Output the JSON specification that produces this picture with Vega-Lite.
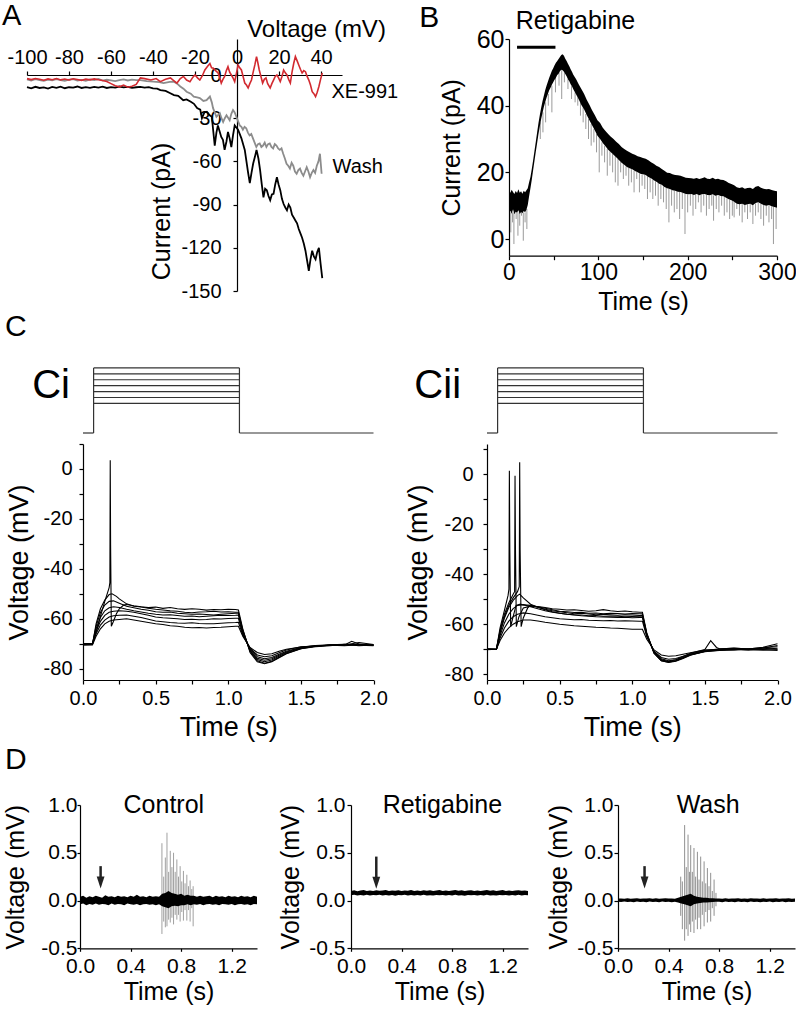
{
"$schema":"https://vega.github.io/schema/vega-lite/v6.json",
"background":"white",
"padding":{"left":0,"top":2,"right":0,"bottom":0},
"config":{
"font":"Liberation Sans",
"view":{"stroke":null},
"axis":{"labelFont":"Liberation Sans","titleFont":"Liberation Sans","labelColor":"#000","titleColor":"#000","domainColor":"#000","tickColor":"#000","titleFontWeight":"normal","grid":false,"labelFlush":false,"labelOverlap":false,"labelBound":false,"domainWidth":1.2,"tickWidth":1.2},
"title":{"font":"Liberation Sans","fontWeight":"normal","color":"#000"},
"text":{"font":"Liberation Sans","color":"#000"}
},
"datasets":{
"iv":[
{"k":"c","V":-100,"I":-8.5},{"k":"c","V":-98,"I":-9.3},{"k":"c","V":-96,"I":-8.2},{"k":"c","V":-94,"I":-9},{"k":"c","V":-92,"I":-8.6},{"k":"c","V":-90,"I":-9.4},{"k":"c","V":-88,"I":-8.3},{"k":"c","V":-86,"I":-8.9},{"k":"c","V":-84,"I":-8.1},{"k":"c","V":-82,"I":-9.2},{"k":"c","V":-80,"I":-8.5},{"k":"c","V":-78,"I":-8.8},{"k":"c","V":-76,"I":-8},{"k":"c","V":-74,"I":-9},{"k":"c","V":-72,"I":-8.4},{"k":"c","V":-70,"I":-8.9},{"k":"c","V":-68,"I":-8.2},{"k":"c","V":-66,"I":-8.7},{"k":"c","V":-64,"I":-8.1},{"k":"c","V":-62,"I":-9},{"k":"c","V":-60,"I":-8.4},{"k":"c","V":-58,"I":-8.8},{"k":"c","V":-56,"I":-8},{"k":"c","V":-54,"I":-8.6},{"k":"c","V":-52,"I":-8.2},{"k":"c","V":-50,"I":-8.9},{"k":"c","V":-48,"I":-8.5},{"k":"c","V":-46,"I":-8.2},{"k":"c","V":-44,"I":-8.8},{"k":"c","V":-42,"I":-8.4},{"k":"c","V":-40,"I":-9.3},{"k":"c","V":-38,"I":-9.5},{"k":"c","V":-36.5,"I":-10.5},{"k":"c","V":-34,"I":-11},{"k":"c","V":-32,"I":-12.5},{"k":"c","V":-30,"I":-14},{"k":"c","V":-28,"I":-14.5},{"k":"c","V":-25.6,"I":-17.5},{"k":"c","V":-24,"I":-17},{"k":"c","V":-22,"I":-18.6},{"k":"c","V":-20.5,"I":-20},{"k":"c","V":-19,"I":-23},{"k":"c","V":-17.5,"I":-24},{"k":"c","V":-16.7,"I":-30},{"k":"c","V":-15.5,"I":-26},{"k":"c","V":-14.4,"I":-25.6},{"k":"c","V":-13,"I":-28},{"k":"c","V":-12,"I":-29},{"k":"c","V":-10.6,"I":-49},{"k":"c","V":-9.8,"I":-40},{"k":"c","V":-9.1,"I":-35},{"k":"c","V":-7.5,"I":-43},{"k":"c","V":-6.7,"I":-45},{"k":"c","V":-5.9,"I":-52},{"k":"c","V":-5,"I":-46},{"k":"c","V":-4.3,"I":-39.5},{"k":"c","V":-3.5,"I":-44},{"k":"c","V":-2.7,"I":-50},{"k":"c","V":-1.9,"I":-42},{"k":"c","V":-1.1,"I":-35},{"k":"c","V":0.5,"I":-38},{"k":"c","V":2.1,"I":-44},{"k":"c","V":3.7,"I":-52},{"k":"c","V":4.5,"I":-60},{"k":"c","V":5.3,"I":-68},{"k":"c","V":6.1,"I":-75},{"k":"c","V":6.9,"I":-68},{"k":"c","V":7.7,"I":-61.5},{"k":"c","V":8.5,"I":-57},{"k":"c","V":9.3,"I":-52},{"k":"c","V":10.2,"I":-58},{"k":"c","V":11,"I":-66},{"k":"c","V":11.8,"I":-76},{"k":"c","V":12.6,"I":-85},{"k":"c","V":13.4,"I":-79},{"k":"c","V":14.2,"I":-80},{"k":"c","V":15,"I":-84},{"k":"c","V":15.8,"I":-87},{"k":"c","V":16.6,"I":-83},{"k":"c","V":17.4,"I":-82.5},{"k":"c","V":18.2,"I":-76},{"k":"c","V":19,"I":-71},{"k":"c","V":19.8,"I":-76},{"k":"c","V":20.6,"I":-80},{"k":"c","V":21.4,"I":-86},{"k":"c","V":22.2,"I":-89.6},{"k":"c","V":23,"I":-92},{"k":"c","V":23.8,"I":-94},{"k":"c","V":24.6,"I":-90},{"k":"c","V":25.4,"I":-92},{"k":"c","V":26.2,"I":-97},{"k":"c","V":27,"I":-99},{"k":"c","V":27.8,"I":-101},{"k":"c","V":28.6,"I":-103},{"k":"c","V":29.4,"I":-107},{"k":"c","V":30.2,"I":-110},{"k":"c","V":31,"I":-113},{"k":"c","V":31.8,"I":-117},{"k":"c","V":32.6,"I":-122},{"k":"c","V":33.4,"I":-129},{"k":"c","V":34.2,"I":-136},{"k":"c","V":35,"I":-128},{"k":"c","V":35.8,"I":-122},{"k":"c","V":36.6,"I":-126},{"k":"c","V":37.4,"I":-128},{"k":"c","V":38.2,"I":-123},{"k":"c","V":39,"I":-120},{"k":"c","V":39.8,"I":-131},{"k":"c","V":40.6,"I":-141},
{"k":"w","V":-100,"I":-3},{"k":"w","V":-98,"I":-3.8},{"k":"w","V":-96,"I":-2.9},{"k":"w","V":-94,"I":-3.5},{"k":"w","V":-92,"I":-4},{"k":"w","V":-90,"I":-3.2},{"k":"w","V":-88,"I":-3.7},{"k":"w","V":-86,"I":-2.8},{"k":"w","V":-84,"I":-3.6},{"k":"w","V":-82,"I":-4.1},{"k":"w","V":-80,"I":-3.3},{"k":"w","V":-78,"I":-2.9},{"k":"w","V":-76,"I":-3.8},{"k":"w","V":-74,"I":-3.4},{"k":"w","V":-72,"I":-4},{"k":"w","V":-70,"I":-3.1},{"k":"w","V":-68,"I":-3.6},{"k":"w","V":-66,"I":-2.8},{"k":"w","V":-64,"I":-3.9},{"k":"w","V":-62,"I":-3.3},{"k":"w","V":-60,"I":-3.7},{"k":"w","V":-58,"I":-4.2},{"k":"w","V":-56,"I":-3.5},{"k":"w","V":-54,"I":-3},{"k":"w","V":-52,"I":-3.8},{"k":"w","V":-50,"I":-3.2},{"k":"w","V":-48,"I":-3.6},{"k":"w","V":-46,"I":-3.5},{"k":"w","V":-43,"I":-4.2},{"k":"w","V":-39.8,"I":-4.6},{"k":"w","V":-37,"I":-5},{"k":"w","V":-35,"I":-5.6},{"k":"w","V":-32,"I":-4.8},{"k":"w","V":-30,"I":-4.6},{"k":"w","V":-28.5,"I":-6},{"k":"w","V":-27,"I":-8},{"k":"w","V":-25.5,"I":-9.5},{"k":"w","V":-24,"I":-11.6},{"k":"w","V":-22,"I":-13},{"k":"w","V":-20.6,"I":-15},{"k":"w","V":-19,"I":-15.5},{"k":"w","V":-17.7,"I":-16},{"k":"w","V":-16,"I":-18},{"k":"w","V":-14.5,"I":-17.5},{"k":"w","V":-12.9,"I":-15},{"k":"w","V":-12,"I":-19},{"k":"w","V":-11.4,"I":-23},{"k":"w","V":-10.6,"I":-26},{"k":"w","V":-9.8,"I":-29},{"k":"w","V":-8.2,"I":-26.5},{"k":"w","V":-7.4,"I":-30},{"k":"w","V":-6.6,"I":-32.6},{"k":"w","V":-5.8,"I":-30},{"k":"w","V":-5,"I":-28},{"k":"w","V":-3.5,"I":-31.4},{"k":"w","V":-2.7,"I":-27},{"k":"w","V":-1.9,"I":-24.4},{"k":"w","V":-1.1,"I":-26},{"k":"w","V":-0.3,"I":-29},{"k":"w","V":0.5,"I":-32},{"k":"w","V":1.3,"I":-35},{"k":"w","V":2.1,"I":-36},{"k":"w","V":2.8,"I":-38},{"k":"w","V":3.6,"I":-36},{"k":"w","V":4.4,"I":-37},{"k":"w","V":5.2,"I":-40},{"k":"w","V":6,"I":-42},{"k":"w","V":6.8,"I":-41},{"k":"w","V":7.6,"I":-44},{"k":"w","V":8.4,"I":-47},{"k":"w","V":9.2,"I":-50},{"k":"w","V":10,"I":-48},{"k":"w","V":10.8,"I":-47.5},{"k":"w","V":11.6,"I":-50},{"k":"w","V":12.4,"I":-49},{"k":"w","V":13.2,"I":-47},{"k":"w","V":14,"I":-50},{"k":"w","V":14.8,"I":-48},{"k":"w","V":15.6,"I":-47.5},{"k":"w","V":16.4,"I":-50},{"k":"w","V":17.2,"I":-51},{"k":"w","V":18,"I":-48},{"k":"w","V":18.8,"I":-49},{"k":"w","V":19.6,"I":-51},{"k":"w","V":20.4,"I":-52},{"k":"w","V":21.2,"I":-51},{"k":"w","V":22,"I":-54.7},{"k":"w","V":22.8,"I":-58},{"k":"w","V":23.6,"I":-61.6},{"k":"w","V":24.4,"I":-63},{"k":"w","V":25.2,"I":-65},{"k":"w","V":26,"I":-61},{"k":"w","V":26.8,"I":-63},{"k":"w","V":27.6,"I":-67},{"k":"w","V":28.4,"I":-68.6},{"k":"w","V":29.2,"I":-66},{"k":"w","V":30,"I":-65},{"k":"w","V":30.8,"I":-68},{"k":"w","V":31.6,"I":-70},{"k":"w","V":32.4,"I":-67},{"k":"w","V":33.2,"I":-64},{"k":"w","V":34,"I":-67},{"k":"w","V":34.8,"I":-71},{"k":"w","V":35.6,"I":-68},{"k":"w","V":36.4,"I":-66},{"k":"w","V":37.2,"I":-68},{"k":"w","V":38,"I":-63},{"k":"w","V":38.8,"I":-60},{"k":"w","V":39.5,"I":-54.7},{"k":"w","V":40.3,"I":-68.6},
{"k":"x","V":-100,"I":-2.5},{"k":"x","V":-98,"I":-3.2},{"k":"x","V":-96,"I":-2.4},{"k":"x","V":-94,"I":-3},{"k":"x","V":-92,"I":-3.6},{"k":"x","V":-90,"I":-2.7},{"k":"x","V":-88,"I":-3.3},{"k":"x","V":-86,"I":-2.5},{"k":"x","V":-84,"I":-3.4},{"k":"x","V":-82,"I":-2.8},{"k":"x","V":-80,"I":-3.5},{"k":"x","V":-78,"I":-2.6},{"k":"x","V":-76,"I":-3.1},{"k":"x","V":-74,"I":-3.7},{"k":"x","V":-72,"I":-2.9},{"k":"x","V":-70,"I":-3.4},{"k":"x","V":-68,"I":-2.7},{"k":"x","V":-66,"I":-3.3},{"k":"x","V":-64,"I":-3.8},{"k":"x","V":-62,"I":-4.5},{"k":"x","V":-60,"I":-6},{"k":"x","V":-58,"I":-7.5},{"k":"x","V":-56,"I":-8.2},{"k":"x","V":-54,"I":-7},{"k":"x","V":-52,"I":-8.5},{"k":"x","V":-50,"I":-7.8},{"k":"x","V":-48,"I":-6.5},{"k":"x","V":-46,"I":-2},{"k":"x","V":-44,"I":-2.5},{"k":"x","V":-41,"I":-3.5},{"k":"x","V":-38.5,"I":-2.5},{"k":"x","V":-36.5,"I":-4.6},{"k":"x","V":-34,"I":-3},{"k":"x","V":-31.7,"I":-2},{"k":"x","V":-30,"I":-4},{"k":"x","V":-28.6,"I":-5.6},{"k":"x","V":-27,"I":-2.5},{"k":"x","V":-25.5,"I":-1},{"k":"x","V":-24,"I":-3.5},{"k":"x","V":-22.4,"I":-4.6},{"k":"x","V":-21,"I":-1.5},{"k":"x","V":-20,"I":0},{"k":"x","V":-18.8,"I":-2},{"k":"x","V":-17.7,"I":-3.5},{"k":"x","V":-16.5,"I":-0.5},{"k":"x","V":-15.3,"I":3.5},{"k":"x","V":-14,"I":6},{"k":"x","V":-12.9,"I":8},{"k":"x","V":-12.1,"I":5},{"k":"x","V":-11.4,"I":4.8},{"k":"x","V":-10.2,"I":3},{"k":"x","V":-9,"I":1.4},{"k":"x","V":-8.2,"I":-2},{"k":"x","V":-7.5,"I":-5.6},{"k":"x","V":-6.7,"I":-3},{"k":"x","V":-5.9,"I":-1},{"k":"x","V":-5.1,"I":3},{"k":"x","V":-4.3,"I":5.8},{"k":"x","V":-3.5,"I":2},{"k":"x","V":-2.7,"I":0},{"k":"x","V":-1.9,"I":-2},{"k":"x","V":-1.1,"I":-4.6},{"k":"x","V":-0.3,"I":1},{"k":"x","V":0.5,"I":7},{"k":"x","V":1.3,"I":5},{"k":"x","V":2.1,"I":3.5},{"k":"x","V":2.9,"I":-1},{"k":"x","V":3.7,"I":-5.6},{"k":"x","V":4.5,"I":-7},{"k":"x","V":5.3,"I":-9},{"k":"x","V":6.1,"I":-6},{"k":"x","V":6.9,"I":-3.5},{"k":"x","V":7.7,"I":2},{"k":"x","V":8.5,"I":7},{"k":"x","V":9.3,"I":12.8},{"k":"x","V":10,"I":8},{"k":"x","V":10.6,"I":3.5},{"k":"x","V":11.4,"I":-1},{"k":"x","V":12.2,"I":-5.6},{"k":"x","V":13,"I":-3},{"k":"x","V":13.8,"I":-2},{"k":"x","V":14.6,"I":-6},{"k":"x","V":15.8,"I":-9},{"k":"x","V":16.6,"I":-6},{"k":"x","V":17.4,"I":-3.5},{"k":"x","V":18.2,"I":-1},{"k":"x","V":19,"I":0},{"k":"x","V":19.8,"I":-2},{"k":"x","V":20.6,"I":-4.6},{"k":"x","V":21.4,"I":-1},{"k":"x","V":22.2,"I":3.5},{"k":"x","V":23,"I":1.5},{"k":"x","V":23.8,"I":0},{"k":"x","V":24.6,"I":-3},{"k":"x","V":25.4,"I":-5.6},{"k":"x","V":26.2,"I":2},{"k":"x","V":27,"I":8},{"k":"x","V":27.8,"I":12.8},{"k":"x","V":28.6,"I":10},{"k":"x","V":29.4,"I":7},{"k":"x","V":30.2,"I":4},{"k":"x","V":31,"I":1.4},{"k":"x","V":31.8,"I":3},{"k":"x","V":32.6,"I":2.3},{"k":"x","V":33.4,"I":-1},{"k":"x","V":34.2,"I":-3.5},{"k":"x","V":35,"I":-7},{"k":"x","V":35.8,"I":-11.6},{"k":"x","V":36.6,"I":-13},{"k":"x","V":37.4,"I":-15},{"k":"x","V":38.2,"I":-12},{"k":"x","V":39,"I":-8},{"k":"x","V":39.8,"I":-3},{"k":"x","V":40.6,"I":1.4}
],
"bband":[
{"t":0,"lo":7.8,"hi":14.6},{"t":1.5,"lo":8.5,"hi":13.9},{"t":3,"lo":7.6,"hi":14.8},{"t":4.5,"lo":8.9,"hi":14.1},{"t":6,"lo":7.4,"hi":13.5},{"t":7.5,"lo":8.2,"hi":14.4},{"t":9,"lo":7.9,"hi":13.8},{"t":10.5,"lo":8.6,"hi":14.9},{"t":12,"lo":7.5,"hi":13.9},{"t":13.5,"lo":8.1,"hi":14.3},{"t":15,"lo":7.7,"hi":13.6},{"t":16.5,"lo":8.4,"hi":14.5},{"t":18,"lo":8,"hi":14},{"t":19.5,"lo":8.8,"hi":14.6},{"t":21,"lo":10.2,"hi":15.2},{"t":22.5,"lo":12.8,"hi":17},{"t":24,"lo":15.2,"hi":18.6},{"t":25.5,"lo":17.8,"hi":21},{"t":27,"lo":20.6,"hi":23.6},{"t":28.5,"lo":23.4,"hi":26.4},{"t":30,"lo":26.2,"hi":29.2},{"t":31.5,"lo":28.8,"hi":32},{"t":33,"lo":31.5,"hi":34.8},{"t":34.5,"lo":33.8,"hi":37.2},{"t":36,"lo":36,"hi":39.4},{"t":37.5,"lo":37.8,"hi":41.3},{"t":39,"lo":39.6,"hi":43},{"t":40.5,"lo":41,"hi":44.6},{"t":42,"lo":42.4,"hi":46},{"t":43.5,"lo":43.5,"hi":47.2},{"t":45,"lo":44.6,"hi":48.4},{"t":46.5,"lo":45.4,"hi":49.4},{"t":48,"lo":46.3,"hi":50.5},{"t":49.5,"lo":47,"hi":51.2},{"t":51,"lo":47.8,"hi":52.1},{"t":52.5,"lo":48.4,"hi":52.9},{"t":54,"lo":49.2,"hi":53.4},{"t":55.5,"lo":49.6,"hi":54},{"t":57,"lo":50.3,"hi":54.6},{"t":58.5,"lo":50.8,"hi":55.2},{"t":60,"lo":50.6,"hi":55.4},{"t":61.5,"lo":50.2,"hi":55},{"t":63,"lo":49.5,"hi":54.1},{"t":64.5,"lo":48.8,"hi":53.4},{"t":66,"lo":47.9,"hi":52.6},{"t":67.5,"lo":47.3,"hi":51.8},{"t":69,"lo":46.4,"hi":50.9},{"t":70.5,"lo":45.8,"hi":50.2},{"t":72,"lo":44.9,"hi":49.3},{"t":75,"lo":43.4,"hi":48},{"t":78,"lo":41.9,"hi":46.4},{"t":81,"lo":40.2,"hi":45},{"t":84,"lo":38.9,"hi":43.6},{"t":87,"lo":37.2,"hi":41.8},{"t":90,"lo":35.6,"hi":40.3},{"t":93,"lo":34.1,"hi":38.6},{"t":96,"lo":32.6,"hi":37.2},{"t":99,"lo":31,"hi":35.6},{"t":102,"lo":30,"hi":34.8},{"t":105,"lo":28.8,"hi":33.4},{"t":108,"lo":27.8,"hi":32.4},{"t":111,"lo":26.8,"hi":31.5},{"t":114,"lo":26,"hi":30.7},{"t":117,"lo":25.3,"hi":30},{"t":120,"lo":24.5,"hi":29.2},{"t":123,"lo":23.7,"hi":28.5},{"t":126,"lo":22.9,"hi":27.6},{"t":129,"lo":22.3,"hi":27},{"t":132,"lo":21.6,"hi":26.5},{"t":135,"lo":21.2,"hi":26},{"t":138,"lo":20.9,"hi":25.6},{"t":141,"lo":20.4,"hi":25.3},{"t":144,"lo":20,"hi":24.8},{"t":147,"lo":19.6,"hi":24.6},{"t":150,"lo":19.4,"hi":24.3},{"t":153,"lo":19.2,"hi":24.1},{"t":156,"lo":18.6,"hi":23.6},{"t":159,"lo":18.2,"hi":23},{"t":162,"lo":17.6,"hi":22.6},{"t":165,"lo":17.2,"hi":22},{"t":168,"lo":16.6,"hi":21.6},{"t":171,"lo":16.3,"hi":21},{"t":174,"lo":15.6,"hi":20.5},{"t":177,"lo":15.2,"hi":19.9},{"t":180,"lo":15,"hi":19.8},{"t":183,"lo":14.6,"hi":19.4},{"t":186,"lo":14.5,"hi":19.2},{"t":189,"lo":14.2,"hi":19.1},{"t":192,"lo":14.1,"hi":19},{"t":195,"lo":13.8,"hi":18.7},{"t":198,"lo":13.5,"hi":18.4},{"t":201,"lo":13.4,"hi":18.3},{"t":204,"lo":13.5,"hi":18.2},{"t":207,"lo":13.2,"hi":18.1},{"t":210,"lo":13.5,"hi":18.3},{"t":213,"lo":13.1,"hi":18},{"t":216,"lo":13.4,"hi":18.2},{"t":219,"lo":13.5,"hi":18.5},{"t":222,"lo":13.2,"hi":18.1},{"t":225,"lo":13.1,"hi":18},{"t":228,"lo":13.4,"hi":18.4},{"t":231,"lo":13,"hi":17.9},{"t":234,"lo":13.2,"hi":18.1},{"t":237,"lo":12.9,"hi":17.8},{"t":240,"lo":12.8,"hi":17.7},{"t":243,"lo":12.4,"hi":17.3},{"t":246,"lo":11.9,"hi":16.8},{"t":249,"lo":11.6,"hi":16.5},{"t":252,"lo":11.2,"hi":16.1},{"t":255,"lo":10.6,"hi":15.5},{"t":258,"lo":10.4,"hi":15.3},{"t":261,"lo":10.6,"hi":15.5},{"t":264,"lo":10.2,"hi":15.1},{"t":267,"lo":10.4,"hi":15.3},{"t":270,"lo":10.6,"hi":15.4},{"t":273,"lo":10.1,"hi":15},{"t":276,"lo":10.8,"hi":15.7},{"t":279,"lo":11,"hi":15.9},{"t":282,"lo":10.6,"hi":15.4},{"t":285,"lo":10.2,"hi":15.1},{"t":288,"lo":10,"hi":14.9},{"t":291,"lo":10.2,"hi":15},{"t":294,"lo":9.8,"hi":14.7},{"t":297,"lo":9.6,"hi":14.5},{"t":300,"lo":9.4,"hi":14.3}
],
"bspk":[
{"t":2,"tip":2,"top":8},{"t":4,"tip":5,"top":8},{"t":5.5,"tip":-1.5,"top":8},{"t":8,"tip":6,"top":8},{"t":10,"tip":1,"top":8},{"t":12,"tip":4,"top":8},{"t":14,"tip":7,"top":8},{"t":16,"tip":-0.5,"top":8},{"t":18,"tip":5,"top":8},{"t":20,"tip":3,"top":9},{"t":35,"tip":30,"top":35},{"t":38,"tip":32,"top":38},{"t":41,"tip":35,"top":41},{"t":44,"tip":40,"top":43.5},{"t":48,"tip":38,"top":46},{"t":52,"tip":44,"top":48.5},{"t":56,"tip":46,"top":50},{"t":59,"tip":42,"top":50.6},{"t":62,"tip":47,"top":50},{"t":66,"tip":45,"top":48},{"t":70,"tip":42,"top":46},{"t":74,"tip":41,"top":44},{"t":77,"tip":40,"top":42.5},{"t":80,"tip":37,"top":41},{"t":83,"tip":35,"top":39.5},{"t":86,"tip":33,"top":37.5},{"t":89,"tip":30,"top":36},{"t":92,"tip":28,"top":34.5},{"t":95,"tip":29,"top":33},{"t":98,"tip":26,"top":31.5},{"t":101,"tip":20,"top":30.5},{"t":104,"tip":25,"top":29},{"t":107,"tip":23,"top":28},{"t":110,"tip":19,"top":27},{"t":113,"tip":22,"top":26.3},{"t":116,"tip":20,"top":25.5},{"t":119,"tip":17,"top":25},{"t":122,"tip":16,"top":24},{"t":125,"tip":20,"top":23.2},{"t":128,"tip":18,"top":22.5},{"t":131,"tip":19,"top":21.8},{"t":134,"tip":16,"top":21.3},{"t":137,"tip":17,"top":21},{"t":140,"tip":14,"top":20.5},{"t":143,"tip":18,"top":20.1},{"t":146,"tip":14,"top":19.7},{"t":149,"tip":16,"top":19.4},{"t":152,"tip":15,"top":19.2},{"t":155,"tip":12,"top":18.8},{"t":158,"tip":14,"top":18.3},{"t":161,"tip":12,"top":17.8},{"t":164,"tip":13,"top":17.3},{"t":167,"tip":10,"top":16.8},{"t":170,"tip":12,"top":16.4},{"t":173,"tip":11,"top":15.8},{"t":176,"tip":9,"top":15.3},{"t":179,"tip":5,"top":15},{"t":182,"tip":10,"top":14.7},{"t":185,"tip":8,"top":14.5},{"t":188,"tip":9,"top":14.3},{"t":191,"tip":6,"top":14.1},{"t":194,"tip":9,"top":13.9},{"t":197,"tip":1.5,"top":13.6},{"t":200,"tip":8,"top":13.4},{"t":203,"tip":10,"top":13.5},{"t":206,"tip":7,"top":13.3},{"t":209,"tip":9,"top":13.4},{"t":212,"tip":11,"top":13.2},{"t":215,"tip":8,"top":13.3},{"t":218,"tip":10,"top":13.4},{"t":221,"tip":7,"top":13.2},{"t":224,"tip":9,"top":13.1},{"t":227,"tip":10,"top":13.3},{"t":229,"tip":5.5,"top":13.1},{"t":232,"tip":9,"top":13.1},{"t":235,"tip":8,"top":13},{"t":238,"tip":10,"top":12.9},{"t":241,"tip":7,"top":12.7},{"t":244,"tip":8,"top":12.2},{"t":247,"tip":6,"top":11.8},{"t":250,"tip":7,"top":11.5},{"t":252,"tip":6.5,"top":11.2},{"t":255,"tip":9,"top":10.6},{"t":258,"tip":7,"top":10.5},{"t":261,"tip":5,"top":10.5},{"t":264,"tip":8,"top":10.3},{"t":267,"tip":6,"top":10.4},{"t":270,"tip":8,"top":10.5},{"t":273,"tip":4.5,"top":10.2},{"t":276,"tip":7,"top":10.7},{"t":279,"tip":8,"top":10.9},{"t":282,"tip":6,"top":10.6},{"t":285,"tip":4,"top":10.2},{"t":288,"tip":7,"top":10},{"t":291,"tip":5,"top":10.1},{"t":294,"tip":6,"top":9.8},{"t":296,"tip":-1.5,"top":9.7},{"t":299,"tip":3,"top":9.5}
],
"prot":[
{"t1":0,"t2":0.073,"v1":0,"v2":0},{"t1":1.077,"t2":2,"v1":0,"v2":0},{"t1":0.073,"t2":0.073,"v1":0,"v2":110},{"t1":1.077,"t2":1.077,"v1":0,"v2":110},
{"t1":0.073,"t2":1.077,"v1":50,"v2":50},{"t1":0.073,"t2":1.077,"v1":60,"v2":60},{"t1":0.073,"t2":1.077,"v1":70,"v2":70},{"t1":0.073,"t2":1.077,"v1":80,"v2":80},{"t1":0.073,"t2":1.077,"v1":90,"v2":90},{"t1":0.073,"t2":1.077,"v1":100,"v2":100},{"t1":0.073,"t2":1.077,"v1":110,"v2":110}
],
"ci":[
{"t":0,"a":-70.5,"b":-70,"c":-70,"d":-70.3,"e":-70,"f":-70.5,"g":-70},
{"t":0.065,"a":-70.5,"b":-70,"c":-70.2,"d":-70,"e":-70,"f":-70.3,"g":-70},
{"t":0.09,"a":-67,"b":-66,"c":-65,"d":-64,"e":-63,"f":-62,"g":-65.5},
{"t":0.12,"a":-64,"b":-62.5,"c":-61,"d":-59.5,"e":-57.5,"f":-56,"g":-59},
{"t":0.15,"a":-62,"b":-60.5,"c":-58.6,"d":-56.8,"e":-54.5,"f":-52.5,"g":-53},
{"t":0.18,"a":-61,"b":-59.3,"c":-57.4,"d":-55.6,"e":-53,"f":-50.3,"g":-47.5},
{"t":0.185,"g":-45.5},{"t":0.1875,"g":3.5},{"t":0.19,"g":-30},{"t":0.195,"g":-63},{"t":0.2,"f":-50},
{"t":0.21,"a":-60.5,"b":-58.8,"c":-57,"d":-55.2,"e":-52.8,"g":-61},
{"t":0.23,"f":-51,"g":-58},
{"t":0.25,"a":-60.3,"b":-58.6,"c":-56.8,"d":-55.5,"e":-53.8,"f":-52,"g":-56},
{"t":0.28,"g":-54.5},
{"t":0.3,"a":-60,"b":-58.5,"c":-57,"d":-56.2,"e":-55,"f":-54,"g":-54.3},
{"t":0.35,"a":-60.5,"b":-59,"c":-57.4,"d":-56.8,"e":-55.6,"f":-55,"g":-54.8},
{"t":0.4,"a":-61,"b":-59.5,"c":-58,"d":-57.3,"e":-56.2,"f":-55.3,"g":-55.2},
{"t":0.45,"a":-61.5,"b":-60.2,"c":-58.6,"d":-57.8,"e":-56.6,"f":-55.8,"g":-55.5},
{"t":0.5,"a":-62,"b":-60.9,"c":-59.3,"d":-58.2,"e":-57.2,"f":-56.2,"g":-55.3},
{"t":0.55,"a":-62.3,"b":-61.2,"c":-59.6,"d":-58.5,"e":-57.4,"f":-56.5,"g":-55.8},
{"t":0.6,"a":-62.8,"b":-61.5,"c":-59.8,"d":-58.4,"e":-57.3,"f":-56.8,"g":-55.5},
{"t":0.65,"a":-63,"b":-61.7,"c":-60,"d":-58.7,"e":-57.8,"f":-57,"g":-56},
{"t":0.7,"a":-63.4,"b":-61.8,"c":-60.3,"d":-59,"e":-58,"f":-57.4,"g":-56.2},
{"t":0.75,"a":-63.6,"b":-61.6,"c":-60.2,"d":-58.9,"e":-58.2,"f":-57.6,"g":-56},
{"t":0.8,"a":-63.5,"b":-61.9,"c":-60.4,"d":-59.2,"e":-58.1,"f":-57.3,"g":-56.2},
{"t":0.85,"a":-63.7,"b":-62,"c":-60.3,"d":-59,"e":-58.3,"f":-57.2,"g":-56.5},
{"t":0.9,"a":-63.5,"b":-62,"c":-60,"d":-58.8,"e":-58.5,"f":-57,"g":-56.3},
{"t":0.95,"a":-63.4,"b":-61.8,"c":-60.1,"d":-58.6,"e":-58.2,"f":-57.3,"g":-56.4},
{"t":1,"a":-63.2,"b":-61.6,"c":-59.9,"d":-58.7,"e":-58,"f":-57.2,"g":-56.2},
{"t":1.05,"a":-63,"b":-61.5,"c":-59.8,"d":-58.6,"e":-57.8,"f":-57.4,"g":-56.3},
{"t":1.07,"a":-63,"b":-61.4,"c":-59.8,"d":-58.5,"e":-57.8,"f":-57.4,"g":-56.5},
{"t":1.1,"a":-67,"b":-66.5,"c":-66,"d":-65.5,"e":-65,"f":-64.5,"g":-64},
{"t":1.15,"a":-71.5,"b":-71.8,"c":-72,"d":-72.5,"e":-72.8,"f":-73,"g":-73.5},
{"t":1.2,"a":-73.5,"b":-74.5,"c":-75.2,"d":-75.8,"e":-76.3,"f":-76.8,"g":-77.2},
{"t":1.25,"a":-74.3,"b":-75.2,"c":-76,"d":-76.6,"e":-77.2,"f":-77.8,"g":-78},
{"t":1.3,"a":-74,"b":-74.8,"c":-75.5,"d":-76,"e":-76.5,"f":-77,"g":-77.2},
{"t":1.35,"a":-73,"b":-73.6,"c":-74.2,"d":-74.6,"e":-75,"f":-75.4,"g":-75.6},
{"t":1.4,"a":-72.2,"b":-72.5,"c":-73,"d":-73.3,"e":-73.6,"f":-73.9,"g":-74},
{"t":1.5,"a":-71.3,"b":-71.2,"c":-71.5,"d":-71.6,"e":-71.8,"f":-72,"g":-72},
{"t":1.6,"a":-70.8,"b":-70.9,"c":-70.7,"d":-71,"e":-71,"f":-71.2,"g":-71},
{"t":1.7,"a":-70.6,"b":-70.5,"c":-70.4,"d":-70.5,"e":-70.6,"f":-70.8,"g":-70.6},
{"t":1.8,"a":-70.8,"b":-70.3,"c":-70.2,"d":-70.6,"e":-70.5,"f":-70.2,"g":-70.5},
{"t":1.85,"g":-69},
{"t":1.9,"a":-70.4,"b":-70.8,"c":-70.3,"d":-70.2,"e":-69.5,"f":-70.6,"g":-70.1},
{"t":2,"a":-70.6,"b":-70.5,"c":-70.7,"d":-70.4,"e":-70.3,"f":-70.8,"g":-70.5}
],
"cii":[
{"t":0,"a":-70,"b":-70.2,"c":-69.8,"d":-70,"e":-70.1,"f":-70,"g":-69.9},
{"t":0.065,"a":-70,"b":-70,"c":-70,"d":-70,"e":-70,"f":-70,"g":-70},
{"t":0.09,"a":-66.5,"b":-65.5,"c":-64.5,"d":-63.5,"e":-63,"f":-62.5,"g":-61.5},
{"t":0.12,"a":-63.5,"b":-61.5,"c":-59.5,"d":-57.5,"e":-57,"f":-56,"g":-54.5},
{"t":0.145,"g":-48.5},
{"t":0.15,"a":-61.5,"b":-58.8,"c":-56,"d":-53.3,"e":-52.5,"f":-51.5},
{"t":0.151,"g":-46},{"t":0.154,"g":1.3},{"t":0.157,"g":-30},{"t":0.163,"g":-61},
{"t":0.18,"a":-60,"b":-57,"c":-53.8,"d":-50.5,"e":-49.5,"f":-48,"g":-57},
{"t":0.19,"f":-47},{"t":0.193,"f":-0.7},{"t":0.196,"f":-30},{"t":0.2,"g":-52.5},{"t":0.202,"f":-61},
{"t":0.21,"a":-59,"b":-56,"c":-52.5,"d":-48.6,"e":-47},
{"t":0.22,"f":-57},{"t":0.222,"e":-45},{"t":0.225,"d":-48,"e":4.7},{"t":0.228,"e":-30},{"t":0.23,"g":-52},{"t":0.235,"e":-61},
{"t":0.25,"a":-58.3,"b":-55.5,"c":-52.2,"d":-49.5,"e":-57.5,"f":-53.5,"g":-52.3},
{"t":0.28,"e":-53.5},
{"t":0.3,"a":-58.3,"b":-55.8,"c":-53,"d":-52,"e":-52.5,"f":-52.8,"g":-52.5},
{"t":0.35,"a":-58.7,"b":-56.4,"c":-53.8,"d":-53.2,"e":-53.2,"f":-53,"g":-53},
{"t":0.4,"a":-59.2,"b":-57,"c":-54.6,"d":-54.2,"e":-54,"f":-53.6,"g":-53.3},
{"t":0.45,"a":-59.6,"b":-57.4,"c":-55.2,"d":-55,"e":-54.6,"f":-54.2,"g":-53.8},
{"t":0.5,"a":-60,"b":-57.8,"c":-55.6,"d":-55.6,"e":-55,"f":-54.8,"g":-54},
{"t":0.55,"a":-60.3,"b":-58,"c":-56,"d":-56,"e":-55.4,"f":-55,"g":-54.3},
{"t":0.6,"a":-60.6,"b":-58.2,"c":-56.3,"d":-56.2,"e":-55.8,"f":-55.3,"g":-54.2},
{"t":0.65,"a":-60.8,"b":-58.1,"c":-56.6,"d":-56.3,"e":-55.6,"f":-55.2,"g":-54.5},
{"t":0.7,"a":-61,"b":-58.4,"c":-56.8,"d":-56.6,"e":-55.9,"f":-55.6,"g":-54.8},
{"t":0.75,"a":-61.2,"b":-58.5,"c":-57,"d":-56.5,"e":-56.2,"f":-55.5,"g":-54.6},
{"t":0.8,"a":-61.3,"b":-58.6,"c":-57.1,"d":-56.8,"e":-56,"f":-55.8,"g":-54.2},
{"t":0.85,"a":-61.5,"b":-58.5,"c":-57.2,"d":-56.7,"e":-56.2,"f":-55.6,"g":-54.6},
{"t":0.9,"a":-61.6,"b":-58.7,"c":-57.3,"d":-56.8,"e":-56.4,"f":-55.7,"g":-54.9},
{"t":0.95,"a":-61.8,"b":-58.6,"c":-57.2,"d":-57,"e":-56.2,"f":-55.9,"g":-54.7},
{"t":1,"a":-62,"b":-58.7,"c":-57.4,"d":-56.9,"e":-56.3,"f":-55.7,"g":-55},
{"t":1.05,"a":-62,"b":-58.8,"c":-57.3,"d":-56.8,"e":-56.5,"f":-55.8,"g":-55.2},
{"t":1.07,"a":-62,"b":-58.8,"c":-57.3,"d":-56.8,"e":-56.4,"f":-55.8,"g":-55.2},
{"t":1.1,"a":-66,"b":-65,"c":-64.5,"d":-64.3,"e":-64,"f":-63.8,"g":-63.5},
{"t":1.15,"a":-70.3,"b":-70.8,"c":-71,"d":-71.3,"e":-71.6,"f":-71.4,"g":-71.6},
{"t":1.2,"a":-72.3,"b":-73.3,"c":-73.8,"d":-74.3,"e":-74.6,"f":-74.2,"g":-74.6},
{"t":1.25,"a":-72.8,"b":-74,"c":-74.6,"d":-75,"e":-75.3,"f":-74.9,"g":-75.2},
{"t":1.3,"a":-72.6,"b":-73.7,"c":-74.2,"d":-74.6,"e":-74.8,"f":-74.2,"g":-74.6},
{"t":1.35,"a":-72,"b":-72.8,"c":-73.3,"d":-73.5,"e":-73.7,"f":-72.9,"g":-73.4},
{"t":1.4,"a":-71.4,"b":-71.9,"c":-72.2,"d":-72.3,"e":-72.4,"f":-71.6,"g":-72},
{"t":1.5,"a":-70.3,"b":-70.6,"c":-70.9,"d":-71,"e":-70.8,"f":-70.1,"g":-70.4},
{"t":1.54,"f":-66.6},{"t":1.58,"f":-69.3},
{"t":1.6,"a":-70,"b":-70.2,"c":-70.5,"d":-70.4,"e":-70.2,"f":-69.8,"g":-69.9},
{"t":1.7,"a":-70.2,"b":-70,"c":-70.3,"d":-70.2,"e":-70,"f":-69.6,"g":-69.5},
{"t":1.8,"a":-69.8,"b":-70.3,"c":-70.1,"d":-70,"e":-70.2,"f":-69.8,"g":-69.9},
{"t":1.9,"a":-70,"b":-70.1,"c":-70.4,"d":-69.6,"e":-69.5,"f":-69.4,"g":-69.2},
{"t":2,"a":-69.6,"b":-70.5,"c":-70.2,"d":-70,"e":-68.5,"f":-69,"g":-67.8}
],
"d1b":[
{"t":0,"lo":-0.04,"hi":0.04},{"t":0.025,"lo":-0.03,"hi":0.05},{"t":0.05,"lo":-0.05,"hi":0.03},{"t":0.075,"lo":-0.035,"hi":0.045},{"t":0.1,"lo":-0.045,"hi":0.035},{"t":0.125,"lo":-0.03,"hi":0.05},{"t":0.15,"lo":-0.045,"hi":0.04},{"t":0.175,"lo":-0.035,"hi":0.03},{"t":0.2,"lo":-0.04,"hi":0.055},{"t":0.225,"lo":-0.05,"hi":0.04},{"t":0.25,"lo":-0.03,"hi":0.045},{"t":0.275,"lo":-0.045,"hi":0.035},{"t":0.3,"lo":-0.035,"hi":0.05},{"t":0.325,"lo":-0.04,"hi":0.04},{"t":0.35,"lo":-0.05,"hi":0.045},{"t":0.375,"lo":-0.03,"hi":0.035},{"t":0.4,"lo":-0.04,"hi":0.05},{"t":0.425,"lo":-0.045,"hi":0.04},{"t":0.45,"lo":-0.035,"hi":0.06},{"t":0.475,"lo":-0.05,"hi":0.04},{"t":0.5,"lo":-0.04,"hi":0.045},{"t":0.525,"lo":-0.035,"hi":0.035},{"t":0.55,"lo":-0.045,"hi":0.05},{"t":0.575,"lo":-0.04,"hi":0.04},{"t":0.6,"lo":-0.05,"hi":0.045},{"t":0.625,"lo":-0.04,"hi":0.04},{"t":0.65,"lo":-0.06,"hi":0.07},{"t":0.675,"lo":-0.07,"hi":0.08},{"t":0.7,"lo":-0.08,"hi":0.1},{"t":0.725,"lo":-0.06,"hi":0.08},{"t":0.75,"lo":-0.055,"hi":0.07},{"t":0.775,"lo":-0.06,"hi":0.06},{"t":0.8,"lo":-0.05,"hi":0.07},{"t":0.825,"lo":-0.05,"hi":0.05},{"t":0.85,"lo":-0.04,"hi":0.06},{"t":0.875,"lo":-0.05,"hi":0.05},{"t":0.9,"lo":-0.04,"hi":0.05},{"t":0.925,"lo":-0.045,"hi":0.04},{"t":0.95,"lo":-0.035,"hi":0.05},{"t":0.975,"lo":-0.05,"hi":0.04},{"t":1,"lo":-0.04,"hi":0.045},{"t":1.025,"lo":-0.035,"hi":0.05},{"t":1.05,"lo":-0.045,"hi":0.035},{"t":1.075,"lo":-0.04,"hi":0.05},{"t":1.1,"lo":-0.05,"hi":0.04},{"t":1.125,"lo":-0.035,"hi":0.045},{"t":1.15,"lo":-0.04,"hi":0.035},{"t":1.175,"lo":-0.045,"hi":0.05},{"t":1.2,"lo":-0.035,"hi":0.04},{"t":1.225,"lo":-0.05,"hi":0.045},{"t":1.25,"lo":-0.04,"hi":0.035},{"t":1.275,"lo":-0.035,"hi":0.05},{"t":1.3,"lo":-0.045,"hi":0.04},{"t":1.325,"lo":-0.04,"hi":0.045},{"t":1.35,"lo":-0.05,"hi":0.035},{"t":1.375,"lo":-0.035,"hi":0.05},{"t":1.4,"lo":-0.04,"hi":0.04}
],
"d1s":[
{"t":0.648,"lo":-0.35,"hi":0.6},{"t":0.662,"lo":-0.22,"hi":0.25},{"t":0.675,"lo":-0.28,"hi":0.45},{"t":0.688,"lo":-0.27,"hi":0.71},{"t":0.701,"lo":-0.2,"hi":0.3},{"t":0.714,"lo":-0.23,"hi":0.52},{"t":0.727,"lo":-0.18,"hi":0.35},{"t":0.74,"lo":-0.25,"hi":0.5},{"t":0.753,"lo":-0.15,"hi":0.3},{"t":0.766,"lo":-0.2,"hi":0.43},{"t":0.779,"lo":-0.15,"hi":0.25},{"t":0.792,"lo":-0.22,"hi":0.36},{"t":0.805,"lo":-0.12,"hi":0.2},{"t":0.818,"lo":-0.21,"hi":0.31},{"t":0.831,"lo":-0.1,"hi":0.18},{"t":0.845,"lo":-0.21,"hi":0.27},{"t":0.858,"lo":-0.1,"hi":0.15},{"t":0.871,"lo":-0.22,"hi":0.21},{"t":0.884,"lo":-0.08,"hi":0.12},{"t":0.895,"lo":-0.27,"hi":0.15}
],
"d2b":[
{"t":0,"lo":0.055,"hi":0.1},{"t":0.025,"lo":0.06,"hi":0.108},{"t":0.05,"lo":0.052,"hi":0.098},{"t":0.075,"lo":0.058,"hi":0.104},{"t":0.1,"lo":0.054,"hi":0.11},{"t":0.125,"lo":0.061,"hi":0.1},{"t":0.15,"lo":0.053,"hi":0.106},{"t":0.175,"lo":0.057,"hi":0.099},{"t":0.2,"lo":0.055,"hi":0.107},{"t":0.225,"lo":0.06,"hi":0.102},{"t":0.25,"lo":0.052,"hi":0.105},{"t":0.275,"lo":0.058,"hi":0.11},{"t":0.3,"lo":0.054,"hi":0.1},{"t":0.325,"lo":0.059,"hi":0.106},{"t":0.35,"lo":0.051,"hi":0.103},{"t":0.375,"lo":0.057,"hi":0.108},{"t":0.4,"lo":0.055,"hi":0.099},{"t":0.425,"lo":0.06,"hi":0.105},{"t":0.45,"lo":0.053,"hi":0.102},{"t":0.475,"lo":0.058,"hi":0.109},{"t":0.5,"lo":0.052,"hi":0.101},{"t":0.525,"lo":0.057,"hi":0.106},{"t":0.55,"lo":0.054,"hi":0.1},{"t":0.575,"lo":0.06,"hi":0.107},{"t":0.6,"lo":0.053,"hi":0.103},{"t":0.625,"lo":0.056,"hi":0.108},{"t":0.65,"lo":0.052,"hi":0.099},{"t":0.675,"lo":0.059,"hi":0.104},{"t":0.7,"lo":0.055,"hi":0.11},{"t":0.725,"lo":0.058,"hi":0.101},{"t":0.75,"lo":0.052,"hi":0.106},{"t":0.775,"lo":0.057,"hi":0.1},{"t":0.8,"lo":0.054,"hi":0.105},{"t":0.825,"lo":0.06,"hi":0.109},{"t":0.85,"lo":0.053,"hi":0.102},{"t":0.875,"lo":0.056,"hi":0.107},{"t":0.9,"lo":0.051,"hi":0.1},{"t":0.925,"lo":0.058,"hi":0.104},{"t":0.95,"lo":0.055,"hi":0.108},{"t":0.975,"lo":0.059,"hi":0.101},{"t":1,"lo":0.052,"hi":0.106},{"t":1.025,"lo":0.057,"hi":0.099},{"t":1.05,"lo":0.054,"hi":0.105},{"t":1.075,"lo":0.06,"hi":0.11},{"t":1.1,"lo":0.053,"hi":0.102},{"t":1.125,"lo":0.056,"hi":0.107},{"t":1.15,"lo":0.052,"hi":0.1},{"t":1.175,"lo":0.058,"hi":0.105},{"t":1.2,"lo":0.055,"hi":0.109},{"t":1.225,"lo":0.059,"hi":0.101},{"t":1.25,"lo":0.053,"hi":0.106},{"t":1.275,"lo":0.057,"hi":0.1},{"t":1.3,"lo":0.054,"hi":0.104},{"t":1.325,"lo":0.06,"hi":0.108},{"t":1.35,"lo":0.052,"hi":0.102},{"t":1.375,"lo":0.057,"hi":0.106},{"t":1.4,"lo":0.055,"hi":0.1}
],
"d3b":[
{"t":0,"lo":-0.012,"hi":0.02},{"t":0.025,"lo":-0.015,"hi":0.022},{"t":0.05,"lo":-0.01,"hi":0.018},{"t":0.075,"lo":-0.016,"hi":0.024},{"t":0.1,"lo":-0.012,"hi":0.019},{"t":0.125,"lo":-0.018,"hi":0.021},{"t":0.15,"lo":-0.011,"hi":0.025},{"t":0.175,"lo":-0.015,"hi":0.018},{"t":0.2,"lo":-0.013,"hi":0.022},{"t":0.225,"lo":-0.017,"hi":0.02},{"t":0.25,"lo":-0.01,"hi":0.024},{"t":0.275,"lo":-0.016,"hi":0.019},{"t":0.3,"lo":-0.012,"hi":0.023},{"t":0.325,"lo":-0.018,"hi":0.018},{"t":0.35,"lo":-0.011,"hi":0.021},{"t":0.375,"lo":-0.015,"hi":0.025},{"t":0.4,"lo":-0.013,"hi":0.02},{"t":0.425,"lo":-0.017,"hi":0.022},{"t":0.45,"lo":-0.012,"hi":0.019},{"t":0.475,"lo":-0.02,"hi":0.03},{"t":0.5,"lo":-0.03,"hi":0.04},{"t":0.525,"lo":-0.04,"hi":0.05},{"t":0.55,"lo":-0.05,"hi":0.06},{"t":0.575,"lo":-0.06,"hi":0.07},{"t":0.6,"lo":-0.04,"hi":0.05},{"t":0.625,"lo":-0.03,"hi":0.04},{"t":0.65,"lo":-0.025,"hi":0.035},{"t":0.675,"lo":-0.02,"hi":0.03},{"t":0.7,"lo":-0.02,"hi":0.028},{"t":0.725,"lo":-0.018,"hi":0.025},{"t":0.75,"lo":-0.016,"hi":0.024},{"t":0.775,"lo":-0.014,"hi":0.02},{"t":0.8,"lo":-0.012,"hi":0.022},{"t":0.825,"lo":-0.017,"hi":0.019},{"t":0.85,"lo":-0.011,"hi":0.024},{"t":0.875,"lo":-0.015,"hi":0.018},{"t":0.9,"lo":-0.013,"hi":0.021},{"t":0.925,"lo":-0.018,"hi":0.02},{"t":0.95,"lo":-0.01,"hi":0.023},{"t":0.975,"lo":-0.016,"hi":0.019},{"t":1,"lo":-0.012,"hi":0.022},{"t":1.025,"lo":-0.017,"hi":0.018},{"t":1.05,"lo":-0.011,"hi":0.024},{"t":1.075,"lo":-0.015,"hi":0.02},{"t":1.1,"lo":-0.013,"hi":0.021},{"t":1.125,"lo":-0.018,"hi":0.019},{"t":1.15,"lo":-0.012,"hi":0.023},{"t":1.175,"lo":-0.016,"hi":0.018},{"t":1.2,"lo":-0.01,"hi":0.022},{"t":1.225,"lo":-0.017,"hi":0.02},{"t":1.25,"lo":-0.013,"hi":0.024},{"t":1.275,"lo":-0.015,"hi":0.019},{"t":1.3,"lo":-0.011,"hi":0.021},{"t":1.325,"lo":-0.018,"hi":0.02},{"t":1.35,"lo":-0.012,"hi":0.023},{"t":1.375,"lo":-0.016,"hi":0.018},{"t":1.4,"lo":-0.013,"hi":0.021}
],
"d3s":[
{"t":0.496,"lo":-0.16,"hi":0.25},{"t":0.509,"lo":-0.3,"hi":0.2},{"t":0.527,"lo":-0.42,"hi":0.79},{"t":0.54,"lo":-0.3,"hi":0.35},{"t":0.554,"lo":-0.37,"hi":0.69},{"t":0.565,"lo":-0.25,"hi":0.3},{"t":0.575,"lo":-0.33,"hi":0.58},{"t":0.588,"lo":-0.22,"hi":0.3},{"t":0.601,"lo":-0.34,"hi":0.55},{"t":0.614,"lo":-0.2,"hi":0.25},{"t":0.628,"lo":-0.3,"hi":0.51},{"t":0.641,"lo":-0.18,"hi":0.22},{"t":0.654,"lo":-0.3,"hi":0.46},{"t":0.667,"lo":-0.15,"hi":0.2},{"t":0.681,"lo":-0.27,"hi":0.41},{"t":0.694,"lo":-0.12,"hi":0.18},{"t":0.707,"lo":-0.23,"hi":0.34},{"t":0.72,"lo":-0.1,"hi":0.15},{"t":0.733,"lo":-0.22,"hi":0.29},{"t":0.746,"lo":-0.08,"hi":0.1},{"t":0.76,"lo":-0.16,"hi":0.22},{"t":0.775,"lo":-0.06,"hi":0.08}
],
"arr":[
{"p":1,"t":0.163,"top":0.36,"bot":0.22,"head":0.19},
{"p":2,"t":0.2,"top":0.46,"bot":0.22,"head":0.185},
{"p":3,"t":0.21,"top":0.36,"bot":0.22,"head":0.19}
]
},
"bounds":"full",
"spacing":0,
"vconcat":[
 {"hconcat":[
  {"width":27,"height":323,"view":{"fill":"transparent","stroke":null},
   "title":{"text":"C","orient":"bottom","fontSize":30,"anchor":"start","frame":"group","offset":-49.7,"dx":5},
   "data":{"values":[]},"mark":"point","encoding":{}},
  {"width":315,"height":252,
   "title":{"text":"A","fontSize":29,"anchor":"start","frame":"bounds","offset":-14,"dx":-5},
   "data":{"name":"iv"},
   "layer":[
    {"transform":[{"filter":"datum.k=='c'"}],"mark":{"type":"line","color":"#000","strokeWidth":1.8},
     "encoding":{
      "x":{"field":"V","type":"quantitative","scale":{"domain":[-100,50],"nice":false,"zero":false},
       "axis":{"orient":"top","offset":-36,"values":[-100,-80,-60,-40,-20,0,20,40],"labelExpr":"(datum.value<0?'-':'')+abs(datum.value)","tickSize":4,"labelPadding":4,"labelFontSize":20,"title":"Voltage (mV)","titleFontSize":24,"titleX":289,"titleY":-46,"titleAlign":"center","titleBaseline":"middle","titleAngle":0}},
      "y":{"field":"I","type":"quantitative","scale":{"domain":[-150,25],"nice":false,"zero":false},
       "axis":{"orient":"left","offset":-210,"values":[-150,-120,-90,-60,-30,0],"labelExpr":"(datum.value<0?'-':'')+abs(datum.value)","tickSize":4,"labelPadding":12,"labelFontSize":20,"title":"Current (pA)","titleFontSize":25,"titleX":-76,"titleY":172,"titleAngle":-90,"titleAlign":"center","titleBaseline":"middle"}}}},
    {"transform":[{"filter":"datum.k=='w'"}],"mark":{"type":"line","color":"#8c8c8c","strokeWidth":1.8},
     "encoding":{"x":{"field":"V","type":"quantitative"},"y":{"field":"I","type":"quantitative"}}},
    {"transform":[{"filter":"datum.k=='x'"}],"mark":{"type":"line","color":"#d22a30","strokeWidth":1.6},
     "encoding":{"x":{"field":"V","type":"quantitative"},"y":{"field":"I","type":"quantitative"}}},
    {"data":{"values":[{"V":45,"I":-12,"s":"XE-991"},{"V":45.5,"I":-64,"s":"Wash"}]},
     "mark":{"type":"text","align":"left","baseline":"middle","fontSize":20},
     "encoding":{"x":{"field":"V","type":"quantitative"},"y":{"field":"I","type":"quantitative"},"text":{"field":"s"}}}
   ]},
  {"width":166.3,"height":1,"data":{"values":[]},"mark":"point","encoding":{}},
  {"width":268,"height":216.7,
   "title":{"text":"B","fontSize":30,"anchor":"start","frame":"bounds","offset":-24,"dx":-20},
   "layer":[
    {"data":{"name":"bspk"},"mark":{"type":"rule","color":"#9a9a9a","strokeWidth":1},
     "encoding":{
      "x":{"field":"t","type":"quantitative","scale":{"domain":[0,300],"nice":false,"zero":false},
       "axis":{"values":[0,50,100,150,200,250,300],"labelExpr":"datum.value % 100 == 0 ? ''+datum.value : ''","tickSize":4,"labelPadding":2,"labelFontSize":23,"title":"Time (s)","titleFontSize":25,"titlePadding":5}},
      "y":{"field":"tip","type":"quantitative","scale":{"domain":[-5,60],"nice":false,"zero":false},
       "axis":{"values":[0,10,20,30,40,50,60],"labelExpr":"datum.value % 20 == 0 ? ''+datum.value : ''","tickSize":4,"labelPadding":1,"labelFontSize":25,"title":"Current (pA)","titleFontSize":25,"titlePadding":12}},
      "y2":{"field":"top"}}},
    {"data":{"name":"bband"},"mark":{"type":"area","color":"#000","opacity":1},
     "encoding":{"x":{"field":"t","type":"quantitative"},"y":{"field":"lo","type":"quantitative"},"y2":{"field":"hi"}}},
    {"data":{"values":[{"t1":9,"t2":52,"y":57.5}]},"mark":{"type":"rule","color":"#000","strokeWidth":3},
     "encoding":{"x":{"field":"t1","type":"quantitative"},"x2":{"field":"t2"},"y":{"field":"y","type":"quantitative"}}},
    {"data":{"values":[{"t":7.5,"y":65.5,"s":"Retigabine"}]},"mark":{"type":"text","align":"left","baseline":"middle","fontSize":25},
     "encoding":{"x":{"field":"t","type":"quantitative"},"y":{"field":"y","type":"quantitative"},"text":{"field":"s"}}}
   ]}
 ],"spacing":0,"bounds":"flush"},
 {"hconcat":[
  {"width":82.7,"height":71,"view":{"fill":"transparent","stroke":null},"data":{"values":[]},"mark":"point","encoding":{}},
  {"width":290.5,"height":71,
   "title":{"text":"Ci","orient":"left","angle":0,"align":"right","baseline":"middle","fontSize":40,"offset":12.7,"anchor":"middle","dy":-12,"dx":38},
   "data":{"name":"prot"},"mark":{"type":"rule","color":"#333","strokeWidth":1.2},
   "encoding":{"x":{"field":"t1","type":"quantitative","scale":{"domain":[0,2],"nice":false,"zero":false},"axis":null},"x2":{"field":"t2"},
    "y":{"field":"v1","type":"quantitative","scale":{"domain":[0,120],"nice":false},"axis":null},"y2":{"field":"v2"}}},
  {"width":112.5,"height":1,"data":{"values":[]},"mark":"point","encoding":{}},
  {"width":290.5,"height":71,
   "title":{"text":"Cii","orient":"left","angle":0,"align":"right","baseline":"middle","fontSize":40,"offset":25.7,"anchor":"middle","dy":-12,"dx":47},
   "data":{"name":"prot"},"mark":{"type":"rule","color":"#333","strokeWidth":1.2},
   "encoding":{"x":{"field":"t1","type":"quantitative","scale":{"domain":[0,2],"nice":false,"zero":false},"axis":null},"x2":{"field":"t2"},
    "y":{"field":"v1","type":"quantitative","scale":{"domain":[0,120],"nice":false},"axis":null},"y2":{"field":"v2"}}}
 ],"spacing":0,"bounds":"flush"},
 {"hconcat":[
  {"width":82.7,"height":349,"view":{"fill":"transparent","stroke":null},
   "title":{"text":"D","orient":"bottom","fontSize":30,"anchor":"start","frame":"group","offset":-48.2,"dx":5},
   "data":{"values":[]},"mark":"point","encoding":{}},
  {"width":290.5,"height":236,
   "data":{"name":"ci"},
   "transform":[{"fold":["a","b","c","d","e","f","g"],"as":["k","v"]},{"filter":"isValid(datum.v)"}],
   "mark":{"type":"line","color":"#000","strokeWidth":1.1,"invalid":"filter"},
   "encoding":{
    "x":{"field":"t","type":"quantitative","scale":{"domain":[0,2],"nice":false,"zero":false},
     "axis":{"values":[0,0.25,0.5,0.75,1,1.25,1.5,1.75,2],"labelExpr":"(datum.value*2) % 1 == 0 ? format(datum.value,'.1f') : ''","tickSize":4,"labelPadding":4,"labelFontSize":20,"title":"Time (s)","titleFontSize":27,"titlePadding":6}},
    "y":{"field":"v","type":"quantitative","scale":{"domain":[-84.5,10],"nice":false,"zero":false},
     "axis":{"values":[-80,-70,-60,-50,-40,-30,-20,-10,0,10],"labelExpr":"datum.value % 20 == 0 ? (datum.value<0?'-':'')+abs(datum.value) : ''","tickSize":4,"labelPadding":7,"labelFontSize":20,"title":"Voltage (mV)","titleFontSize":27,"titlePadding":10}},
    "detail":{"field":"k"}}},
  {"width":112.5,"height":1,"data":{"values":[]},"mark":"point","encoding":{}},
  {"width":290.5,"height":236,
   "data":{"name":"cii"},
   "transform":[{"fold":["a","b","c","d","e","f","g"],"as":["k","v"]},{"filter":"isValid(datum.v)"}],
   "mark":{"type":"line","color":"#000","strokeWidth":1.1,"invalid":"filter"},
   "encoding":{
    "x":{"field":"t","type":"quantitative","scale":{"domain":[0,2],"nice":false,"zero":false},
     "axis":{"values":[0,0.25,0.5,0.75,1,1.25,1.5,1.75,2],"labelExpr":"(datum.value*2) % 1 == 0 ? format(datum.value,'.1f') : ''","tickSize":4,"labelPadding":4,"labelFontSize":20,"title":"Time (s)","titleFontSize":27,"titlePadding":6}},
    "y":{"field":"v","type":"quantitative","scale":{"domain":[-82.3,12],"nice":false,"zero":false},
     "axis":{"values":[-80,-70,-60,-50,-40,-30,-20,-10,0,10],"labelExpr":"datum.value % 20 == 0 ? (datum.value<0?'-':'')+abs(datum.value) : ''","tickSize":4,"labelPadding":10,"labelFontSize":20,"title":"Voltage (mV)","titleFontSize":27,"titlePadding":12}},
    "detail":{"field":"k"}}}
 ],"spacing":0,"bounds":"flush"},
 {"hconcat":[
  {"width":79.3,"height":1,"view":{"fill":"transparent","stroke":null},"data":{"values":[]},"mark":"point","encoding":{}},
  {"width":177,"height":143.3,
   "layer":[
    {"data":{"name":"d1s"},"mark":{"type":"rule","color":"#a0a0a0","strokeWidth":1},
     "encoding":{
      "x":{"field":"t","type":"quantitative","scale":{"domain":[0,1.4],"nice":false,"zero":false},
       "axis":{"values":[0,0.2,0.4,0.6,0.8,1,1.2,1.4],"labelExpr":"round(datum.value*10) % 4 == 0 ? format(datum.value,'.1f') : ''","tickSize":3,"labelPadding":4,"labelFontSize":21,"title":"Time (s)","titleFontSize":25,"titlePadding":3}},
      "y":{"field":"lo","type":"quantitative","scale":{"domain":[-0.5,1],"nice":false,"zero":false},
       "axis":{"values":[-0.5,-0.25,0,0.25,0.5,0.75,1],"labelExpr":"round(datum.value*100) % 50 == 0 ? (datum.value<0?'-':'')+format(abs(datum.value),'.1f') : ''","tickSize":3,"labelPadding":0,"labelFontSize":21,"title":"Voltage (mV)","titleFontSize":25,"titlePadding":12}},
      "y2":{"field":"hi"}}},
    {"data":{"name":"d1b"},"mark":{"type":"area","color":"#000"},
     "encoding":{"x":{"field":"t","type":"quantitative"},"y":{"field":"lo","type":"quantitative"},"y2":{"field":"hi"}}},
    {"data":{"name":"arr"},"transform":[{"filter":"datum.p==1"}],"mark":{"type":"rule","color":"#222","strokeWidth":2.5},
     "encoding":{"x":{"field":"t","type":"quantitative"},"y":{"field":"top","type":"quantitative"},"y2":{"field":"bot"}}},
    {"data":{"name":"arr"},"transform":[{"filter":"datum.p==1"}],"mark":{"type":"point","shape":"M-0.65,-1L0.65,-1L0,1Z","filled":true,"color":"#222","size":144,"opacity":1},
     "encoding":{"x":{"field":"t","type":"quantitative"},"y":{"field":"head","type":"quantitative"}}},
    {"data":{"values":[{"t":0.663,"y":1.0,"s":"Control"}]},"mark":{"type":"text","fontSize":25,"align":"center","baseline":"middle"},
     "encoding":{"x":{"field":"t","type":"quantitative"},"y":{"field":"y","type":"quantitative"},"text":{"field":"s"}}}
   ]},
  {"width":93.7,"height":1,"data":{"values":[]},"mark":"point","encoding":{}},
  {"width":177,"height":143.3,
   "layer":[
    {"data":{"name":"d2b"},"mark":{"type":"area","color":"#000"},
     "encoding":{
      "x":{"field":"t","type":"quantitative","scale":{"domain":[0,1.4],"nice":false,"zero":false},
       "axis":{"values":[0,0.2,0.4,0.6,0.8,1,1.2,1.4],"labelExpr":"round(datum.value*10) % 4 == 0 ? format(datum.value,'.1f') : ''","tickSize":3,"labelPadding":4,"labelFontSize":21,"title":"Time (s)","titleFontSize":25,"titlePadding":3}},
      "y":{"field":"lo","type":"quantitative","scale":{"domain":[-0.5,1],"nice":false,"zero":false},
       "axis":{"values":[-0.5,-0.25,0,0.25,0.5,0.75,1],"labelExpr":"round(datum.value*100) % 50 == 0 ? (datum.value<0?'-':'')+format(abs(datum.value),'.1f') : ''","tickSize":4,"labelPadding":2,"labelFontSize":21,"title":"Voltage (mV)","titleFontSize":25,"titlePadding":5}},
      "y2":{"field":"hi"}}},
    {"data":{"name":"arr"},"transform":[{"filter":"datum.p==2"}],"mark":{"type":"rule","color":"#222","strokeWidth":2.5},
     "encoding":{"x":{"field":"t","type":"quantitative"},"y":{"field":"top","type":"quantitative"},"y2":{"field":"bot"}}},
    {"data":{"name":"arr"},"transform":[{"filter":"datum.p==2"}],"mark":{"type":"point","shape":"M-0.65,-1L0.65,-1L0,1Z","filled":true,"color":"#222","size":144,"opacity":1},
     "encoding":{"x":{"field":"t","type":"quantitative"},"y":{"field":"head","type":"quantitative"}}},
    {"data":{"values":[{"t":0.723,"y":1.0,"s":"Retigabine"}]},"mark":{"type":"text","fontSize":25,"align":"center","baseline":"middle"},
     "encoding":{"x":{"field":"t","type":"quantitative"},"y":{"field":"y","type":"quantitative"},"text":{"field":"s"}}}
   ]},
  {"width":89.7,"height":1,"data":{"values":[]},"mark":"point","encoding":{}},
  {"width":177,"height":143.3,
   "layer":[
    {"data":{"name":"d3s"},"mark":{"type":"rule","color":"#909090","strokeWidth":1},
     "encoding":{
      "x":{"field":"t","type":"quantitative","scale":{"domain":[0,1.4],"nice":false,"zero":false},
       "axis":{"values":[0,0.2,0.4,0.6,0.8,1,1.2,1.4],"labelExpr":"round(datum.value*10) % 4 == 0 ? format(datum.value,'.1f') : ''","tickSize":3,"labelPadding":4,"labelFontSize":21,"title":"Time (s)","titleFontSize":25,"titlePadding":3}},
      "y":{"field":"lo","type":"quantitative","scale":{"domain":[-0.5,1],"nice":false,"zero":false},
       "axis":{"values":[-0.5,-0.25,0,0.25,0.5,0.75,1],"labelExpr":"round(datum.value*100) % 50 == 0 ? (datum.value<0?'-':'')+format(abs(datum.value),'.1f') : ''","tickSize":4,"labelPadding":1,"labelFontSize":21,"title":"Voltage (mV)","titleFontSize":25,"titlePadding":5}},
      "y2":{"field":"hi"}}},
    {"data":{"name":"d3b"},"mark":{"type":"area","color":"#000"},
     "encoding":{"x":{"field":"t","type":"quantitative"},"y":{"field":"lo","type":"quantitative"},"y2":{"field":"hi"}}},
    {"data":{"name":"arr"},"transform":[{"filter":"datum.p==3"}],"mark":{"type":"rule","color":"#222","strokeWidth":2.5},
     "encoding":{"x":{"field":"t","type":"quantitative"},"y":{"field":"top","type":"quantitative"},"y2":{"field":"bot"}}},
    {"data":{"name":"arr"},"transform":[{"filter":"datum.p==3"}],"mark":{"type":"point","shape":"M-0.65,-1L0.65,-1L0,1Z","filled":true,"color":"#222","size":144,"opacity":1},
     "encoding":{"x":{"field":"t","type":"quantitative"},"y":{"field":"head","type":"quantitative"}}},
    {"data":{"values":[{"t":0.713,"y":1.0,"s":"Wash"}]},"mark":{"type":"text","fontSize":25,"align":"center","baseline":"middle"},
     "encoding":{"x":{"field":"t","type":"quantitative"},"y":{"field":"y","type":"quantitative"},"text":{"field":"s"}}}
   ]}
 ],"spacing":0,"bounds":"flush"}
]
}
